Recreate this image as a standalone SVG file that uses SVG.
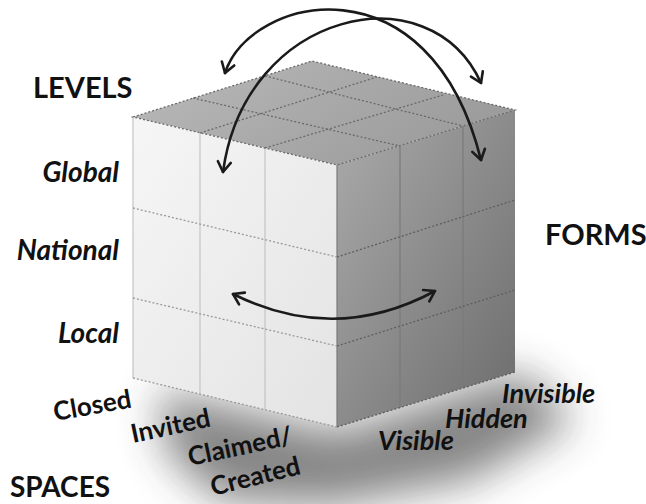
<svg xmlns="http://www.w3.org/2000/svg" width="646" height="504" viewBox="0 0 646 504">
<style>
.lbl{font-family:Lato,"Liberation Sans",sans-serif;font-weight:bold;fill:#111}
.head{font-size:29px}
.it{font-size:28px;font-style:italic}
.fm{font-size:27px;font-style:italic}
.sp{font-size:26px}
.vl{stroke-width:1.2;fill:none}
.dl{stroke-dasharray:2 2;stroke-width:1.3;fill:none}
.arc{fill:none;stroke:#1a1a1a;stroke-width:2.6;stroke-linecap:round}
</style>
<defs>
<linearGradient id="gL" x1="0" y1="0" x2="1" y2="1"><stop offset="0" stop-color="#f6f6f6"/><stop offset="1" stop-color="#e3e3e3"/></linearGradient>
<linearGradient id="gR" x1="0" y1="0" x2="1" y2="1"><stop offset="0" stop-color="#ababab"/><stop offset="1" stop-color="#6c6c6c"/></linearGradient>
<linearGradient id="gT" x1="0" y1="0" x2="1" y2="0.4"><stop offset="0" stop-color="#bababa"/><stop offset="1" stop-color="#9c9c9c"/></linearGradient>
<filter id="blur" x="-50%" y="-50%" width="200%" height="200%"><feGaussianBlur stdDeviation="22"/></filter>
<marker id="ah" viewBox="-13 -9 15 18" markerWidth="15" markerHeight="18" refX="0" refY="0" orient="auto-start-reverse" markerUnits="userSpaceOnUse">
<path d="M-10,-6.5 L0,0 L-10,6.5" fill="none" stroke="#1a1a1a" stroke-width="2.6" stroke-linecap="round" stroke-linejoin="round"/>
</marker>
</defs>
<rect width="646" height="504" fill="#fff"/>
<g id="shadow"><polygon points="160,390 337,432 520,372 575,420 470,480 330,505 220,500 165,450" fill="#3a3a3a" opacity="0.62" filter="url(#blur)"/></g>
<g id="cube">
<polygon points="133,117 312,61 515,110 337,165" fill="url(#gT)"/>
<polygon points="133,117 337,165 337,427 133,378" fill="url(#gL)"/>
<polygon points="337,165 515,110 515,372 337,427" fill="url(#gR)"/>
<g stroke="#c4c4c4" class="vl">
<line x1="133" y1="117" x2="133" y2="378"/>
<line x1="200" y1="133" x2="200" y2="394"/>
<line x1="265" y1="148" x2="265" y2="410"/>
</g>
<g stroke="#7a7a7a" class="vl">
<line x1="337" y1="165" x2="337" y2="427"/>
<line x1="400" y1="146" x2="400" y2="408"/>
<line x1="463" y1="126" x2="463" y2="388"/>
</g>
<g stroke="#9a9a9a" class="dl">
<line x1="133" y1="208" x2="337" y2="257"/>
<line x1="133" y1="298" x2="337" y2="346"/>
<line x1="133" y1="378" x2="337" y2="427"/>
</g>
<g stroke="#5e5e5e" class="dl">
<line x1="337" y1="257" x2="515" y2="200"/>
<line x1="337" y1="346" x2="515" y2="290"/>
<line x1="337" y1="427" x2="515" y2="372"/>
</g>
<g stroke="#6a6a6a" class="dl">
<polygon points="133,117 312,61 515,110 337,165"/>
<line x1="200" y1="133" x2="377" y2="77"/>
<line x1="265" y1="148" x2="443" y2="95"/>
<line x1="193" y1="98" x2="400" y2="146"/>
<line x1="265" y1="76" x2="463" y2="126"/>
</g>
</g>
<g id="connectors">
<path class="arc" d="M225,73 C250,-5 430,-45 481,160" marker-start="url(#ah)" marker-end="url(#ah)"/>
<path class="arc" d="M223,172 C245,10 430,-30 481,83" marker-start="url(#ah)" marker-end="url(#ah)"/>
<path class="arc" d="M233,294 Q335,345 435,291" marker-start="url(#ah)" marker-end="url(#ah)"/>
</g>
<g id="levels">
<text class="lbl head" x="33" y="98">LEVELS</text>
<text class="lbl it" x="119" y="182" text-anchor="end">Global</text>
<text class="lbl it" x="119" y="260" text-anchor="end">National</text>
<text class="lbl it" x="119" y="343" text-anchor="end">Local</text>
</g>
<g id="forms">
<text class="lbl head" x="545" y="245">FORMS</text>
<text class="lbl fm" x="502" y="403">Invisible</text>
<text class="lbl fm" x="445" y="428">Hidden</text>
<text class="lbl fm" x="378" y="450">Visible</text>
</g>
<g id="spaces">
<text class="lbl head" x="10" y="497" style="font-size:28px">SPACES</text>
<text class="lbl sp" transform="translate(55,421) rotate(-10)">Closed</text>
<text class="lbl sp" transform="translate(133,443) rotate(-12)">Invited</text>
<text class="lbl sp" transform="translate(190,466) rotate(-12)">Claimed/</text>
<text class="lbl sp" transform="translate(213,496) rotate(-14)">Created</text>
</g>
</svg>
